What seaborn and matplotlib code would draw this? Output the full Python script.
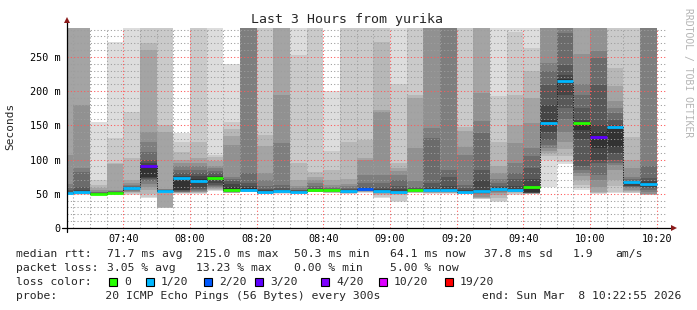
import numpy as np
import pandas as pd
import matplotlib
matplotlib.use("Agg")
import matplotlib.pyplot as plt
from matplotlib.ticker import MultipleLocator, FuncFormatter
from matplotlib.patches import Rectangle
import seaborn as sns

# ---------------- data ----------------
title = "Last 3 Hours from yurika"
end_time = "10:22:55"
span_minutes = 180

# end time of each 5-minute SmokePing step
bar_end = ["07:25", "07:30", "07:35", "07:40", "07:45", "07:50", "07:55", "08:00",
           "08:05", "08:10", "08:15", "08:20", "08:25", "08:30", "08:35", "08:40",
           "08:45", "08:50", "08:55", "09:00", "09:05", "09:10", "09:15", "09:20",
           "09:25", "09:30", "09:35", "09:40", "09:45", "09:50", "09:55", "10:00",
           "10:05", "10:10", "10:15", "10:20"]

# 20 sorted ping RTTs (ms) per step; values above the graph top are off-scale
pings = [
    [48, 49, 49.5, 50, 50.3, 50.6, 50.9, 51.2, 51.5, 51.7, 52, 53, 55, 58, 65, 106, 320, 320, 320, 320],
    [48, 49, 49.5, 50, 50.2, 50.5, 50.8, 51, 51.5, 52, 53.5, 56, 60, 82, 87, 180, 320, 320, 320, 320],
    [48.5, 49, 49.3, 49.6, 49.8, 50, 50.1, 50.2, 50.3, 50.3, 50.5, 51, 51.5, 52, 53, 55, 58, 63, 70, 155],
    [48.5, 49, 49.5, 49.8, 50, 50.2, 50.4, 50.6, 50.8, 51, 52, 52.5, 53, 53.5, 54, 55, 93, 95, 131, 272],
    [48, 50, 51, 52, 53, 54, 55, 56, 57, 58, 59, 59.5, 60, 61, 63, 66, 70, 102, 170, 320],
    [44, 46, 50, 55, 60, 64, 68, 71, 73, 75, 92, 95, 100, 111, 126, 141, 260, 270, 320, 320],
    [29, 29.3, 29.6, 30, 52.5, 53, 53.3, 53.6, 53.8, 54, 55, 55.3, 55.7, 56, 56.5, 57, 140, 150, 320, 320],
    [49.5, 50.5, 51, 51.5, 52, 52.5, 53, 54, 55, 56, 74, 76, 80, 85, 90, 95, 100, 111, 125, 139],
    [50, 51, 51.5, 52, 53, 54, 55, 57, 60, 66, 72, 76, 80, 85, 90, 95, 102, 126, 320, 320],
    [54.5, 55, 56, 57, 58, 59.5, 61, 63, 66, 71, 74, 76, 80, 84, 87, 90, 98, 104, 107, 320],
    [51, 51.2, 51.4, 51.7, 52, 52.4, 52.7, 53, 53.5, 54, 60, 64, 68, 72, 74, 121, 135, 145, 155, 240],
    [52, 52.3, 52.6, 53, 53.3, 53.6, 53.8, 54, 54.5, 55, 58.5, 62, 66, 80, 320, 320, 320, 320, 320, 320],
    [50, 50.2, 50.4, 50.6, 50.8, 51, 51.2, 51.4, 51.7, 52, 53.5, 55, 57, 62, 70, 80, 120, 136, 320, 320],
    [50, 50.5, 51, 51.4, 51.7, 52, 52.4, 52.7, 53, 53.5, 55, 56, 58, 63, 124, 194, 320, 320, 320, 320],
    [50, 50.3, 50.6, 50.8, 51, 51.2, 51.4, 51.7, 52, 52.5, 54, 54.5, 55, 56, 58, 62, 70, 95, 253, 320],
    [52, 52.3, 52.6, 52.9, 53.1, 53.3, 53.5, 53.7, 53.9, 54, 56, 57, 59, 62, 66, 70, 74, 82, 320, 320],
    [50.5, 51, 51.5, 52, 52.5, 53, 53.5, 54, 54.5, 55, 56, 56.5, 57, 58, 60, 63, 70, 85, 113, 200],
    [50, 50.4, 50.7, 51, 51.2, 51.4, 51.7, 52, 52.5, 53, 54.5, 55.5, 57, 59, 62, 65, 72, 125, 320, 320],
    [51.5, 52, 52.5, 53, 53.5, 54, 54.5, 55, 55.5, 56, 57, 58, 60, 66, 77, 100, 102, 128, 320, 320],
    [44, 46, 48, 50, 51, 51.5, 52, 52.5, 53, 53.5, 55.5, 57, 60, 66, 78, 170, 173, 272, 320, 320],
    [38.5, 39, 48, 49.5, 50, 50.5, 51, 51.5, 52, 52.5, 54, 57, 62, 70, 78, 83, 88, 95, 210, 320],
    [50.5, 51, 51.5, 52, 52.5, 53, 53.5, 54, 54.5, 55, 56, 57, 58, 60, 68, 117, 190, 194, 320, 320],
    [50, 50.5, 51, 51.5, 52, 52.5, 53, 53.5, 54, 54.5, 57, 60, 66, 131, 146, 320, 320, 320, 320, 320],
    [50, 50.5, 51, 51.5, 52, 52.5, 53, 53.5, 54, 54.5, 57, 62, 75, 85, 320, 320, 320, 320, 320, 320],
    [50, 50.2, 50.4, 50.6, 50.8, 51, 51.2, 51.4, 51.7, 52, 54, 56, 58, 63, 107, 119, 142, 148, 320, 320],
    [43, 43.1, 43.2, 43.5, 46, 49, 51, 51.5, 52, 53, 56, 70, 85, 139, 156, 197, 320, 320, 320, 320],
    [38.5, 40, 44, 48, 51, 53, 54, 55, 56, 57, 58.5, 60, 62, 66, 72, 80, 90, 125, 193, 320],
    [48, 50, 51, 52, 52.5, 53, 53.5, 54, 54.5, 55, 57, 62, 72, 80, 95, 124, 150, 194, 287, 320],
    [50, 50.1, 50.2, 50.4, 50.6, 50.8, 51, 51.2, 51.5, 52, 62, 72, 88, 105, 117, 153, 190, 230, 263, 320],
    [60.5, 100, 105, 110, 113, 117, 121, 129, 140, 150, 158, 180, 209, 230, 241, 320, 320, 320, 320, 320],
    [94, 97, 105, 115, 125, 140, 160, 175, 195, 212, 218, 224, 238, 285, 320, 320, 320, 320, 320, 320],
    [55.6, 58, 63, 70, 76, 80, 85, 90, 130, 143, 155, 158, 175, 195, 211, 255, 320, 320, 320, 320],
    [50, 50.5, 51, 53, 60, 70, 78, 95, 100, 117, 140, 150, 209, 248, 258, 320, 320, 320, 320, 320],
    [51, 53, 62, 70, 85, 92, 95, 100, 110, 118, 149, 151, 158, 168, 175, 185, 207, 234, 320, 320],
    [51, 51.5, 52.5, 54, 56, 58, 60, 61, 62, 64, 67, 68, 69, 71, 74, 88, 100, 133, 320, 320],
    [48, 48.2, 48.5, 49, 50, 53, 55, 58, 60, 63, 66, 68, 73, 90, 320, 320, 320, 320, 320, 320],
]

median_rtt = [51.5, 52.2, 50.3, 51.3, 58.5, 90, 54.5, 73, 69, 72.5, 55, 56, 52.5, 54, 53, 55,
              55.5, 53.5, 56.5, 54, 53, 55.5, 55, 55, 52.5, 53.5, 57.5, 55.5, 59.6, 153,
              215.0, 153, 133, 147, 66.5, 64.1]

lost_pings = [1, 1, 0, 0, 1, 3, 1, 1, 1, 0, 0, 1, 1, 1, 1, 0, 0, 1, 2, 1, 1, 0, 1, 1, 1,
              1, 1, 1, 0, 1, 1, 0, 3, 1, 1, 1]

loss_levels = [0, 1, 2, 3, 4, 10, 19]
loss_labels = ["0", "1/20", "2/20", "3/20", "4/20", "10/20", "19/20"]
loss_colors = ["#26ff00", "#00b8ff", "#0059ff", "#5e00ff", "#7e00ff", "#dd00ff", "#ff0000"]

y_ticks = [0, 50, 100, 150, 200, 250]
y_tick_labels = ["0", "50 m", "100 m", "150 m", "200 m", "250 m"]

legend_rtt = [("median rtt:", 16), ("71.7 ms avg", 107), ("215.0 ms max", 196),
              ("50.3 ms min", 294), ("64.1 ms now", 390), ("37.8 ms sd", 484),
              ("1.9", 573), ("am/s", 615)]
legend_loss = [("packet loss:", 16), ("3.05 % avg", 107), ("13.23 % max", 196),
               ("0.00 % min", 294), ("5.00 % now", 390)]
probe_text = "probe:       20 ICMP Echo Pings (56 Bytes) every 300s"
end_text = "end: Sun Mar  8 10:22:55 2026"

# ---------------- helpers ----------------
def to_min(s):
    parts = [int(p) for p in s.split(":")]
    m = parts[0] * 60 + parts[1]
    if len(parts) > 2:
        m += parts[2] / 60.0
    return m

W, H = 697, 310

def fx(x):
    return x / W

def fy(y):
    return 1 - y / H

sns.set_theme(style="white")
plt.rcParams["font.family"] = ["DejaVu Sans Mono"]
plt.rcParams["lines.scale_dashes"] = False

ends = np.array([to_min(s) for s in bar_end])
starts = ends - 5
P = np.array(pings, dtype=float)
med = np.array(median_rtt)
t1 = to_min(end_time)
t0 = t1 - span_minutes

fig = plt.figure(figsize=(W / 100, H / 100), dpi=100)
fig.patch.set_facecolor("white")
ax = fig.add_axes([fx(66.5), fy(228), 600 / W, 200.5 / H])
ax.set_facecolor("white")

# smoke: band between ping r and ping r+1, grey by depth (SmokePing scheme)
for r in range(19):
    ib = min(r + 1, 19 - r)
    g = int(190 / 10 * (10 - ib)) + 50
    col = "#%02x%02x%02x" % (g, g, g)
    ax.bar(starts, P[:, r + 1] - P[:, r], bottom=P[:, r], width=5, align="edge",
           color=col, linewidth=0, antialiased=False, zorder=1)

# median step line
xs = np.column_stack([starts, ends]).ravel()
ys = np.repeat(med, 2)
sns.lineplot(x=xs, y=ys, sort=False, estimator=None, ax=ax, color="#202020",
             lw=0.7, linestyle=(0, (0.9, 0.9)), zorder=3)

def loss_color(n):
    c = loss_colors[0]
    for lv, cc in zip(loss_levels, loss_colors):
        if n >= lv:
            c = cc
    return c

ax.hlines(med, starts, ends, colors=[loss_color(n) for n in lost_pings], lw=2.0,
          zorder=4)

ax.set_xlim(t0, t1)
ax.set_ylim(0, 293)

ax.xaxis.set_major_locator(MultipleLocator(20))
ax.xaxis.set_minor_locator(MultipleLocator(5))
ax.xaxis.set_major_formatter(FuncFormatter(lambda v, p: "%02d:%02d" % (int(v) // 60, int(v) % 60)))
ax.set_yticks(y_ticks)
ax.set_yticklabels(y_tick_labels)
ax.yaxis.set_minor_locator(MultipleLocator(10))

ax.set_axisbelow(False)
dots = (0, (0.8, 1.6))
ax.grid(which="minor", color=(0.62, 0.62, 0.62, 0.55), linestyle=dots, lw=0.75)
ax.grid(which="major", color=(1.0, 0.35, 0.35, 0.6), linestyle=dots, lw=0.75)

ax.tick_params(which="both", direction="inout", length=3, width=0.7, color="#444444",
               labelsize=7.3, labelcolor="black", pad=2.5)
ax.tick_params(which="minor", length=2)
for s in ax.spines.values():
    s.set_visible(False)

# axes with arrows
ax.plot([-0.007, 1.01], [0, 0], transform=ax.transAxes, color="black", lw=0.9,
        clip_on=False, zorder=5)
ax.plot([0, 0], [-0.02, 1.03], transform=ax.transAxes, color="black", lw=0.9,
        clip_on=False, zorder=5)
ax.plot([1.013], [0], transform=ax.transAxes, marker=">", ms=4.5, color="#8b1a1a",
        clip_on=False, zorder=6, mew=0)
ax.plot([0], [1.035], transform=ax.transAxes, marker="^", ms=4.5, color="#8b1a1a",
        clip_on=False, zorder=6, mew=0)

ax.set_xlabel("")
ax.set_ylabel("")

# texts
fig.text(fx(347), fy(19), title, ha="center", va="center", fontsize=9.5)
fig.text(fx(10), fy(126), "Seconds", rotation=90, ha="center", va="center", fontsize=8)
fig.text(fx(688), fy(73), "RRDTOOL / TOBI OETIKER", rotation=-90, ha="center",
         va="center", fontsize=7.0, color="#b4b4b4")

LFS = 8.2
for txt, x in legend_rtt:
    fig.text(fx(x), fy(254), txt, ha="left", va="center", fontsize=LFS)
for txt, x in legend_loss:
    fig.text(fx(x), fy(268), txt, ha="left", va="center", fontsize=LFS)
fig.text(fx(16), fy(282), "loss color:", ha="left", va="center", fontsize=LFS)
sq_x = [109, 146, 204, 255, 321, 379, 445]
for lab, col, x in zip(loss_labels, loss_colors, sq_x):
    fig.patches.append(Rectangle((fx(x), fy(286)), 8 / W, 8 / H, transform=fig.transFigure,
                                 facecolor=col, edgecolor="black", lw=0.8))
    fig.text(fx(x + 15), fy(282), lab, ha="left", va="center", fontsize=LFS)
fig.text(fx(16), fy(296), probe_text, ha="left", va="center", fontsize=LFS)
fig.text(fx(681), fy(296), end_text, ha="right", va="center", fontsize=LFS)

fig.savefig("out.png", dpi=100, facecolor="white")
